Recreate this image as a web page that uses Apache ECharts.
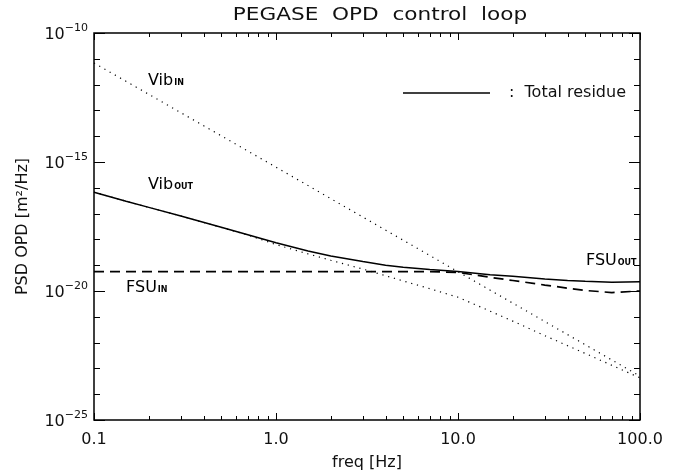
<!DOCTYPE html>
<html>
<head>
<meta charset="utf-8">
<title>PEGASE OPD control loop</title>
<script src="https://cdn.jsdelivr.net/npm/echarts@6/dist/echarts.min.js"></script>
<style>
  html, body { margin: 0; padding: 0; background: #fff; }
  #chart { width: 691px; height: 473px; }
</style>
</head>
<body>
<div id="chart"></div>
<script>
// Total residue (solid)
const freqTotal = [0.1, 0.15, 0.2, 0.3, 0.5, 0.7, 1, 1.5, 2, 3, 4, 5, 7, 10, 15, 20, 30, 40, 50, 70, 100];
const psdTotal  = [6.76e-17, 3.02e-17, 1.74e-17, 8.1e-18, 2.95e-18, 1.51e-18, 7.4e-19, 3.55e-19,
                   2.29e-19, 1.38e-19, 1.0e-19, 8.3e-20, 6.8e-20, 5.75e-20, 4.27e-20, 3.72e-20,
                   2.95e-20, 2.57e-20, 2.4e-20, 2.19e-20, 2.29e-20];

// Residual vibrations (lower dotted)
const freqVibOut = [0.1, 0.15, 0.2, 0.3, 0.5, 0.7, 1, 1.5, 2, 3, 4, 5, 7, 10, 15, 20, 30, 40, 50, 70, 100];
const psdVibOut  = [6.76e-17, 3.02e-17, 1.74e-17, 8.1e-18, 2.9e-18, 1.48e-18, 6.3e-19, 2.75e-19,
                    1.55e-19, 7.1e-20, 3.9e-20, 2.45e-20, 1.23e-20, 5.75e-21, 1.66e-21, 6.8e-22,
                    1.86e-22, 7.6e-23, 3.8e-23, 1.32e-23, 4.3e-24];

// Input vibrations (upper dotted)
const freqVibIn = [0.1, 1, 10, 100];
const psdVibIn  = [6.9e-12, 6.3e-16, 5.6e-20, 5.0e-24];

// Fringe sensor noise (dashed)
const freqFsu = [0.1, 1, 5, 7, 10, 15, 20, 30, 40, 50, 70, 100];
const psdFsu  = [5.6e-20, 5.6e-20, 5.6e-20, 5.6e-20, 5.25e-20, 3.4e-20, 2.55e-20, 1.7e-20,
                 1.29e-20, 1.05e-20, 8.7e-21, 1.0e-20];

// Axis ticks
const xMajor = [0.1, 1, 10, 100];
const xMinor = [0.2, 0.3, 0.4, 0.5, 0.6, 0.7, 0.8, 0.9, 2, 3, 4, 5, 6, 7, 8, 9, 20, 30, 40, 50, 60, 70, 80, 90];
const yMajor = [1e-25, 1e-20, 1e-15, 1e-10];
const yMinor = [1e-24, 1e-23, 1e-22, 1e-21, 1e-19, 1e-18, 1e-17, 1e-16, 1e-14, 1e-13, 1e-12, 1e-11];

const X_MIN = 0.1, X_MAX = 100, Y_MIN = 1e-25, Y_MAX = 1e-10;

const FONT = 'DejaVu Sans';
const INK = '#111';

const pairs = (xs, ys) => xs.map((x, i) => [x, ys[i]]);

const chart = echarts.init(document.getElementById('chart'), null, { renderer: 'canvas' });

chart.setOption({
  animation: false,
  backgroundColor: '#fff',
  grid: {
    left: 94, top: 33, right: 51, bottom: 53, containLabel: false, outerBoundsMode: 'none',
    show: true, borderColor: '#000', borderWidth: 1.5, backgroundColor: 'transparent'
  },
  xAxis: {
    type: 'log', logBase: 10, min: X_MIN, max: X_MAX,
    splitLine: { show: false },
    axisLine: { show: false },
    axisTick: { show: false },
    axisLabel: {
      customValues: xMajor, margin: 12,
      fontFamily: FONT, fontSize: 16, color: INK,
      formatter: v => Number(v).toFixed(1)
    },
    name: 'freq [Hz]', nameLocation: 'middle', nameGap: 35,
    nameTextStyle: { fontFamily: FONT, fontSize: 16, color: INK }
  },
  yAxis: {
    type: 'log', logBase: 10, min: Y_MIN, max: Y_MAX,
    splitLine: { show: false },
    axisLine: { show: false },
    axisTick: { show: false },
    axisLabel: {
      customValues: yMajor, margin: 6,
      formatter: v => {
        const e = Math.round(Math.log10(v));
        return '{b|10}{e|\u2212' + Math.abs(e) + '}';
      },
      rich: {
        b: { fontFamily: FONT, fontSize: 16, color: INK, lineHeight: 20, verticalAlign: 'bottom' },
        e: { fontFamily: FONT, fontSize: 11, color: INK, lineHeight: 12, verticalAlign: 'top' }
      }
    },
    name: 'PSD OPD [m\u00b2/Hz]', nameLocation: 'middle', nameGap: 63, nameRotate: 90,
    nameTextStyle: { fontFamily: FONT, fontSize: 16, color: INK }
  },
  legend: {
    left: 403, top: 85, padding: 0,
    data: [{ name: 'Total residue', icon: 'rect' }],
    itemWidth: 87, itemHeight: 1.5,
    selectedMode: false,
    formatter: ':  Total residue',
    textStyle: { fontFamily: FONT, fontSize: 16, color: INK, padding: [0, 0, 0, 14] }
  },
  series: [
    {
      name: 'Vib in', type: 'line', data: pairs(freqVibIn, psdVibIn),
      showSymbol: false, symbol: 'none', silent: true,
      lineStyle: { color: '#000', width: 1.2, type: [1.2, 4.8] }
    },
    {
      name: 'Vib out', type: 'line', data: pairs(freqVibOut, psdVibOut),
      showSymbol: false, symbol: 'none', silent: true,
      lineStyle: { color: '#000', width: 1.2, type: [1.2, 4.8] }
    },
    {
      name: 'FSU', type: 'line', data: pairs(freqFsu, psdFsu),
      showSymbol: false, symbol: 'none', silent: true,
      lineStyle: { color: '#000', width: 1.7, type: [10, 6] }
    },
    {
      name: 'Total residue', type: 'line', data: pairs(freqTotal, psdTotal),
      showSymbol: false, symbol: 'none', silent: true,
      itemStyle: { color: '#000' },
      lineStyle: { color: '#000', width: 1.5, type: 'solid' }
    }
  ]
});

const toPx = (x, y) => chart.convertToPixel({ xAxisIndex: 0, yAxisIndex: 0 }, [x, y]);

// Inward ticks on all four sides of the plot frame
const graphics = [];
function tick(x1, y1, x2, y2) {
  graphics.push({
    type: 'line', silent: true,
    shape: { x1: x1, y1: y1, x2: x2, y2: y2 },
    style: { stroke: '#000', lineWidth: 1 }
  });
}
[[xMajor, 7], [xMinor, 4]].forEach(([vals, len]) => {
  vals.forEach(v => {
    const b = toPx(v, Y_MIN), t = toPx(v, Y_MAX);
    const x = Math.round(b[0]) + 0.5;
    tick(x, b[1], x, b[1] - len);
    tick(x, t[1], x, t[1] + len);
  });
});
[[yMajor, 11], [yMinor, 6]].forEach(([vals, len]) => {
  vals.forEach(v => {
    const l = toPx(X_MIN, v), r = toPx(X_MAX, v);
    const y = Math.round(l[1]) + 0.5;
    tick(l[0], y, l[0] + len, y);
    tick(r[0], y, r[0] - len, y);
  });
});

// Curve annotations placed at data coordinates
const curveNotes = [
  { main: 'Vib', sub: 'IN',  at: [0.198, 10 ** -11.82] },
  { main: 'Vib', sub: 'OUT', at: [0.198, 10 ** -15.85] },
  { main: 'FSU', sub: 'IN',  at: [0.15, 10 ** -19.85] },
  { main: 'FSU', sub: 'OUT', at: [50.5, 10 ** -18.8] }
];

const noteRich = {
  m: { fontFamily: FONT, fontSize: 16, color: INK, lineHeight: 18, verticalAlign: 'bottom' },
  s: { fontFamily: FONT, fontSize: 8, fontWeight: 'bold', color: INK, lineHeight: 8,
       verticalAlign: 'bottom', padding: [0, 0, 2, 1] }
};

curveNotes.forEach(n => {
  const p = toPx(n.at[0], n.at[1]);
  graphics.push({
    type: 'text', x: p[0], y: p[1], silent: true,
    style: {
      text: '{m|' + n.main + '}{s|' + n.sub + '}',
      rich: noteRich, verticalAlign: 'middle', align: 'left'
    }
  });
});

graphics.push({
  type: 'text', x: 380, y: 15, scaleX: 1.2, silent: true,
  style: {
    text: 'PEGASE  OPD  control  loop', fontFamily: FONT, fontSize: 18, fill: INK,
    align: 'center', verticalAlign: 'middle'
  }
});

chart.setOption({ graphic: graphics });
</script>
</body>
</html>
